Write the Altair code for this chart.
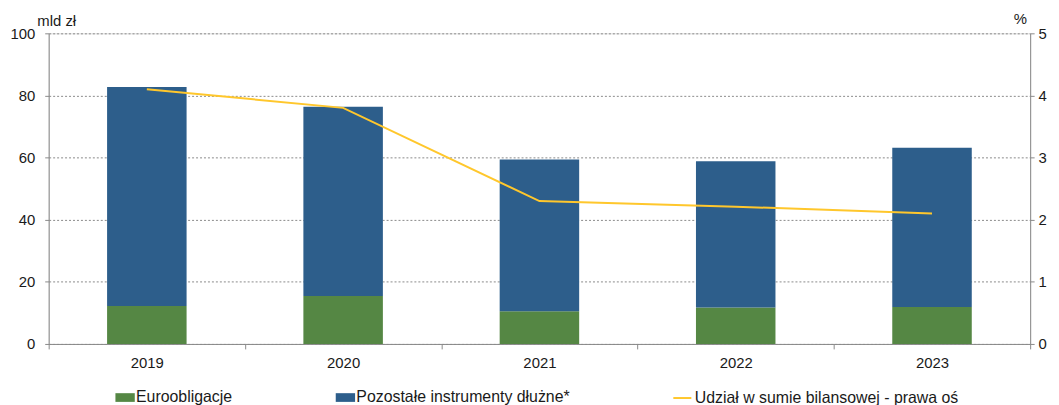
import altair as alt
import pandas as pd

years = ["2019", "2020", "2021", "2022", "2023"]
euro = [12.2, 15.4, 10.5, 11.7, 11.9]
pozostale = [70.5, 61.0, 48.9, 47.1, 51.3]
udzial = [4.10, 3.80, 2.30, 2.21, 2.10]

s_euro = "Euroobligacje"
s_poz = "Pozostałe instrumenty dłużne*"
s_line = "Udział w sumie bilansowej - prawa oś"

rows = []
for y, e, p in zip(years, euro, pozostale):
    rows.append({"rok": y, "seria": s_euro, "wartosc": e, "ord": 0})
    rows.append({"rok": y, "seria": s_poz, "wartosc": p, "ord": 1})
bars_df = pd.DataFrame(rows)
line_df = pd.DataFrame({"rok": years, "udzial": udzial, "seria": [s_line] * len(years)})

FONT = "Liberation Sans"
GREEN = "#558744"
BLUE = "#2D5E8B"
YELLOW = "#FFC72C"
GRAY = "#8a8a8a"
TXT = "#1a1a1a"

xenc = alt.X(
    "rok:N",
    sort=years,
    scale=alt.Scale(paddingInner=0, paddingOuter=0),
    axis=alt.Axis(
        title=None, labelAngle=0, labelFontSize=15, labelColor=TXT, labelFont=FONT,
        domainColor=GRAY, tickColor=GRAY, tickSize=5, tickBand="extent",
        labelPadding=7, grid=False,
    ),
)

bars = alt.Chart(bars_df).mark_bar(width=alt.RelativeBandSize(0.405)).encode(
    x=xenc,
    y=alt.Y(
        "wartosc:Q",
        stack="zero",
        scale=alt.Scale(domain=[0, 100], nice=False),
        axis=alt.Axis(
            values=[0, 20, 40, 60, 80, 100], grid=True, gridDash=[2, 2], gridColor=GRAY,
            domainColor=GRAY, tickColor=GRAY, tickSize=4, labelPadding=10,
            labelFontSize=15, labelColor=TXT, labelFont=FONT,
            title="mld zł", titleAngle=0, titleX=-12, titleY=-8, titleAlign="left",
            titleBaseline="alphabetic", titleFontSize=15, titleFontWeight="normal",
            titleFont=FONT, titleColor=TXT,
        ),
    ),
    color=alt.Color(
        "seria:N",
        scale=alt.Scale(domain=[s_euro, s_poz], range=[GREEN, BLUE]),
        legend=alt.Legend(
            title=None, orient="none", legendX=67, legendY=357, direction="horizontal",
            symbolType="M-1,-0.45H1V0.45H-1Z", symbolSize=380, symbolStrokeWidth=0,
            labelFontSize=16, labelFont=FONT, labelColor=TXT, labelOffset=1,
            labelLimit=0, columnPadding=104,
        ),
    ),
    order=alt.Order("ord:Q"),
)

line = alt.Chart(line_df).mark_line(strokeWidth=2).encode(
    x=xenc,
    y=alt.Y(
        "udzial:Q",
        scale=alt.Scale(domain=[0, 5], nice=False),
        axis=alt.Axis(
            orient="right", values=[0, 1, 2, 3, 4, 5], grid=False,
            domainColor=GRAY, tickColor=GRAY, tickSize=4, labelPadding=4,
            labelFontSize=15, labelColor=TXT, labelFont=FONT,
            title="%", titleAngle=0, titleX=-17, titleY=-10, titleAlign="left",
            titleBaseline="alphabetic", titleFontSize=15, titleFontWeight="normal",
            titleFont=FONT, titleColor=TXT,
        ),
    ),
    stroke=alt.Stroke(
        "seria:N",
        scale=alt.Scale(domain=[s_line], range=[YELLOW]),
        legend=alt.Legend(
            title=None, orient="none", legendX=628, legendY=357,
            symbolType="stroke", symbolSize=330, symbolStrokeWidth=2,
            labelFontSize=16, labelFont=FONT, labelColor=TXT, labelOffset=2,
            labelLimit=0,
        ),
    ),
)

chart = (
    alt.layer(bars, line)
    .resolve_scale(y="independent", color="independent")
    .properties(
        width=989, height=313,
        autosize=alt.AutoSizeParams(type="none"),
        padding={"left": 41, "top": 24, "right": 21, "bottom": 60},
    )
    .configure_view(stroke=None)
    .configure(font=FONT)
)

chart.save("out.html", embed_options={"renderer": "svg", "actions": False})
